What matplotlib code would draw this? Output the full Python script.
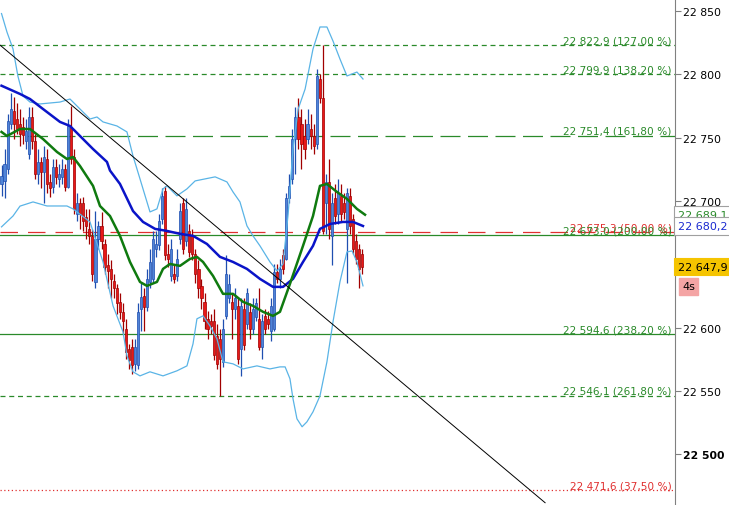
import numpy as np
import matplotlib
matplotlib.use('Agg')
import matplotlib.pyplot as plt

# 蠟燭圖數據 (open / high / low / close)
opens = [22713, 22716, 22725, 22761, 22771, 22765, 22761, 22758, 22747, 22737,
         22766, 22747, 22721, 22731, 22723, 22733, 22715, 22711, 22727, 22717,
         22719, 22725, 22711, 22758, 22735, 22690, 22698, 22698, 22687, 22678,
         22672, 22636, 22670, 22680, 22666, 22649, 22646, 22637, 22631, 22620,
         22612, 22599, 22583, 22585, 22571, 22570, 22615, 22625, 22616, 22636,
         22638, 22662, 22665, 22686, 22708, 22658, 22641, 22642, 22641, 22670,
         22698, 22668, 22676, 22672, 22658, 22646, 22633, 22620, 22607, 22605,
         22605, 22593, 22591, 22573, 22609, 22623, 22620, 22615, 22617, 22583,
         22615, 22603, 22612, 22599, 22608, 22607, 22585, 22609, 22607, 22597,
         22599, 22644, 22638, 22657, 22654, 22702, 22717, 22749, 22766, 22761,
         22751, 22749, 22757, 22751, 22745, 22796, 22781, 22698, 22715, 22672,
         22702, 22690, 22704, 22698, 22678, 22704, 22686, 22668, 22662, 22658]
closes = [22720, 22729, 22763, 22773, 22761, 22757, 22753, 22752, 22755, 22766,
          22747, 22721, 22731, 22723, 22735, 22713, 22710, 22727, 22719, 22721,
          22725, 22711, 22759, 22733, 22694, 22698, 22690, 22684, 22680, 22672,
          22642, 22670, 22680, 22668, 22648, 22645, 22638, 22631, 22619, 22612,
          22605, 22581, 22574, 22570, 22585, 22612, 22624, 22616, 22638, 22652,
          22670, 22666, 22684, 22704, 22657, 22654, 22662, 22638, 22654, 22692,
          22662, 22694, 22660, 22658, 22642, 22631, 22623, 22605, 22599, 22601,
          22578, 22571, 22575, 22599, 22642, 22634, 22615, 22623, 22575, 22617,
          22586, 22627, 22599, 22615, 22619, 22585, 22605, 22599, 22603, 22617,
          22644, 22638, 22646, 22646, 22702, 22712, 22749, 22766, 22749, 22745,
          22741, 22761, 22751, 22743, 22799, 22781, 22676, 22715, 22678, 22698,
          22688, 22706, 22690, 22691, 22706, 22680, 22662, 22654, 22646, 22647.9]
highs = [22728, 22741, 22769, 22785, 22782, 22777, 22773, 22766, 22765, 22774,
         22774, 22753, 22741, 22735, 22743, 22741, 22721, 22733, 22733, 22729,
         22733, 22729, 22765, 22775, 22741, 22706, 22702, 22703, 22694, 22694,
         22678, 22692, 22684, 22691, 22670, 22658, 22653, 22642, 22634, 22627,
         22619, 22607, 22587, 22591, 22591, 22619, 22635, 22631, 22646, 22662,
         22676, 22676, 22690, 22710, 22712, 22666, 22670, 22650, 22662, 22698,
         22702, 22702, 22682, 22678, 22662, 22653, 22638, 22627, 22613, 22611,
         22615, 22603, 22599, 22607, 22657, 22642, 22627, 22631, 22623, 22623,
         22623, 22631, 22619, 22623, 22623, 22631, 22611, 22615, 22613, 22623,
         22650, 22650, 22654, 22662, 22706, 22721, 22757, 22774, 22781, 22773,
         22765, 22773, 22769, 22761, 22804, 22800, 22823, 22721, 22733, 22706,
         22713, 22717, 22713, 22706, 22710, 22710, 22690, 22674, 22666, 22662]
lows = [22704, 22702, 22721, 22757, 22749, 22753, 22743, 22745, 22741, 22733,
        22741, 22717, 22713, 22710, 22698, 22706, 22703, 22706, 22713, 22711,
        22713, 22708, 22710, 22729, 22690, 22684, 22678, 22676, 22670, 22666,
        22637, 22631, 22662, 22662, 22642, 22631, 22623, 22623, 22611, 22607,
        22595, 22575, 22567, 22563, 22566, 22567, 22597, 22597, 22613, 22631,
        22635, 22656, 22661, 22682, 22653, 22648, 22637, 22635, 22637, 22666,
        22658, 22664, 22656, 22653, 22635, 22623, 22615, 22599, 22591, 22595,
        22574, 22567, 22546, 22569, 22607, 22619, 22591, 22607, 22571, 22562,
        22582, 22599, 22591, 22595, 22605, 22582, 22575, 22595, 22599, 22589,
        22597, 22635, 22631, 22642, 22653, 22698, 22713, 22721, 22741, 22725,
        22733, 22745, 22741, 22737, 22741, 22777, 22674, 22674, 22670, 22649,
        22682, 22682, 22684, 22686, 22635, 22674, 22658, 22650, 22631, 22642]

# 移動平均線 (藍 / 綠) 與布林通道
ma_blue_x = [0, 6.1, 9.4, 13.7, 19.3, 22.6, 25.9, 30.2, 34.8, 35.8, 39.1, 43.4, 46.7, 50.7,
             54.6, 58.9, 63.2, 67.8, 72.1, 76.4, 81.0, 85.3, 89.6, 92.9, 96.2, 99.5,
             102.8, 105.1, 108.4, 112.7, 116.0, 119.3]
ma_blue = [22791, 22784.5, 22780.5, 22772.6, 22762.4, 22759.2, 22751.3, 22741.0, 22730.8,
           22724.0, 22713.4, 22692.0, 22683.4, 22677.9, 22676.3, 22674.0, 22672.4, 22666.0,
           22655.8, 22651.8, 22646.3, 22638.4, 22632.1, 22632.1, 22638.4, 22651.8, 22664.5,
           22677.9, 22681.8, 22683.4, 22683.4, 22680.2]
ma_green_x = [0, 1.8, 6.1, 9.4, 13.7, 18.3, 21.6, 23.6, 25.9, 30.2, 32.5, 35.8, 39.1, 42.4,
              45.7, 48.0, 51.3, 53.3, 55.6, 58.9, 62.2, 64.5, 66.5, 69.8, 73.1, 76.4, 79.7,
              83.0, 86.3, 89.6, 91.9, 95.2, 99.5, 102.8, 105.1, 107.4, 110.7, 114.0, 117.3, 119.97]
ma_green = [22754.5, 22751.3, 22756.8, 22756.8, 22748.9, 22738.7, 22733.1, 22734.7, 22727.6,
            22711.9, 22696.0, 22688.1, 22672.4, 22651.8, 22636.0, 22632.9, 22636.0, 22646.3,
            22650.2, 22648.7, 22654.2, 22655.8, 22651.8, 22640.8, 22626.6, 22626.6, 22620.3,
            22617.1, 22612.4, 22609.2, 22612.4, 22634.5, 22664.5, 22688.1, 22711.9, 22713.4,
            22707.1, 22701.6, 22693.7, 22689.1]
bb_up_x = [0, 1.8, 3.8, 5.4, 7.1, 9.4, 12.7, 19.3, 22.6, 25.9, 29.2, 31.5, 33.5, 38.1, 41.4,
           43.4, 45.7, 49.0, 51.3, 53.3, 54.6, 57.9, 61.2, 63.9, 67.2, 70.5, 74.4, 76.4, 78.7,
           81.0, 83.0, 85.3, 88.6, 90.9, 92.9, 94.6, 96.2, 97.9, 100.2, 102.8, 105.1, 107.4,
           109.4, 111.7, 114.0, 117.3, 119.3]
bb_up = [22848, 22833.4, 22820, 22798.7, 22782.9, 22778.1, 22776.6, 22778.1, 22780.5, 22772.6,
         22764.7, 22766.3, 22762.4, 22759.2, 22754.5, 22735.5, 22717.4, 22691.3, 22693.7,
         22709.5, 22711.9, 22704.0, 22709.5, 22715.8, 22717.4, 22719.0, 22715.0, 22707.1,
         22699.2, 22680.3, 22672.4, 22664.5, 22651.8, 22644.7, 22650.2, 22689.7, 22741.0,
         22772.6, 22788.4, 22820.0, 22837.4, 22837.4, 22826.3, 22812.1, 22798.7, 22801.8, 22796.3]
bb_low_x = [0, 3.8, 6.1, 10.4, 15.0, 21.6, 23.6, 29.2, 33.5, 36.8, 40.1, 41.4, 43.4, 45.7,
            49.0, 53.3, 57.9, 61.2, 63.2, 64.5, 66.5, 68.8, 71.1, 73.1, 76.4, 79.7, 84.3,
            88.6, 91.9, 93.6, 95.2, 96.2, 97.5, 99.2, 100.8, 102.8, 105.1, 107.4, 109.4,
            111.7, 114.0, 115.7, 117.3, 119.3]
bb_low = [22679.5, 22688.1, 22695.9, 22699.2, 22696.0, 22696.0, 22693.7, 22683.4, 22651.8,
          22617.1, 22596.6, 22577.6, 22565.0, 22561.8, 22565.0, 22561.8, 22565.8, 22569.7,
          22587.1, 22606.9, 22609.2, 22601.3, 22591.0, 22572.9, 22571.3, 22567.3, 22569.7,
          22567.3, 22568.9, 22568.9, 22559.5, 22543.7, 22527.9, 22521.6, 22525.5, 22533.4,
          22546.0, 22572.9, 22604.5, 22636.1, 22659.7, 22660.5, 22651.8, 22632.9]

# 趨勢線端點
trend_x = [-0.5, 179.4]
trend_y = [22823.1, 22461.6]

# 斐波那契水平線: (價格, 百分比, 顏色, 線型)
levels = [
    (22822.9, 127.00, '#2a8a2a', (0, (4, 3))),
    (22799.9, 138.20, '#2a8a2a', (0, (4, 3))),
    (22751.4, 161.80, '#2a8a2a', (0, (16, 6))),
    (22675.3, 50.00, '#e03030', (0, (14, 8))),
    (22673.0, 200.00, '#2a8a2a', '-'),
    (22594.6, 238.20, '#2a8a2a', '-'),
    (22546.1, 261.80, '#2a8a2a', (0, (4, 3))),
    (22471.6, 37.50, '#e03030', (0, (1, 2))),
]

yticks = [22500, 22550, 22600, 22650, 22700, 22750, 22800, 22850]


def fmt(v, dec=1):
    s = f"{v:,.{dec}f}"
    return s.replace(',', ' ').replace('.', ',')


fig = plt.figure(figsize=(7.29, 5.06), dpi=100)
ax = fig.add_axes([0, 0, 675 / 729, 1])

# 水平線
for price, pct, col, ls in levels:
    ax.axhline(price, color=col, lw=0.9, ls=ls, zorder=1)
    ax.text(0.995, price, f"{fmt(price)} ({fmt(pct, 2)} %)", transform=ax.get_yaxis_transform(),
            ha='right', va='bottom', color=col, fontsize=7.6, zorder=6)

# 蠟燭
x = np.arange(len(opens))
o = np.array(opens)
c = np.array(closes)
up = c >= o
body_col = np.where(up, '#4f84d8', '#e81818')
edge_col = np.where(up, '#1f4fb0', '#a00000')
ax.vlines(x, lows, highs, colors=edge_col, lw=0.9, zorder=2)
ax.bar(x, np.abs(c - o), bottom=np.minimum(o, c), width=0.7, color=body_col,
       edgecolor=edge_col, linewidth=0.5, zorder=3)

# 指標線
ax.plot(bb_up_x, bb_up, color='#5ab4e6', lw=0.9, zorder=4)
ax.plot(bb_low_x, bb_low, color='#5ab4e6', lw=0.9, zorder=4)
ax.plot(ma_blue_x, ma_blue, color='#0a14c8', lw=1.8, zorder=5)
ax.plot(ma_green_x, ma_green, color='#0f7a0f', lw=1.8, zorder=5)
ax.plot(trend_x, trend_y, color='black', lw=0.7, zorder=5)

ax.set_xlim(-0.5, 675 / 3.03 - 0.5)
ax.set_ylim(22459.8, 22859.5)

# 右側座標軸
for s in ['left', 'top', 'bottom']:
    ax.spines[s].set_visible(False)
ax.spines['right'].set_color('#808080')
ax.yaxis.tick_right()
ax.set_yticks(yticks)
ax.set_yticklabels([fmt(t, 0) for t in yticks])
ax.tick_params(axis='y', direction='out', length=4, color='#808080', labelsize=7.8, pad=2)
ax.get_yticklabels()[0].set_fontweight('bold')
ax.set_xticks([])

# 右側價格標籤
trans = ax.get_yaxis_transform()
ax.text(1.004, ma_green[-1], fmt(ma_green[-1]), transform=trans, ha='left', va='center',
        color='#2a8a2a', fontsize=8, clip_on=False, zorder=7,
        bbox=dict(boxstyle='square,pad=0.32', fc='white', ec='#a0a0a0', lw=0.8))
ax.text(1.004, ma_blue[-1], fmt(ma_blue[-1]), transform=trans, ha='left', va='center',
        color='#1a2ad0', fontsize=8, clip_on=False, zorder=7,
        bbox=dict(boxstyle='square,pad=0.32', fc='white', ec='#a0a0a0', lw=0.8))
ax.text(1.004, closes[-1], fmt(closes[-1]), transform=trans, ha='left', va='center',
        color='black', fontsize=8, clip_on=False, zorder=7,
        bbox=dict(boxstyle='square,pad=0.32', fc='#f5c400', ec='#f5c400', lw=0.8))
ax.annotate('4s', xy=(1.0, closes[-1]), xycoords=trans, xytext=(5, -14),
            textcoords='offset points', ha='left', va='center', fontsize=8, color='black',
            annotation_clip=False, zorder=7,
            bbox=dict(boxstyle='square,pad=0.3', fc='#f4a4a4', ec='#f4a4a4'))

fig.savefig('out.png', dpi=100)
